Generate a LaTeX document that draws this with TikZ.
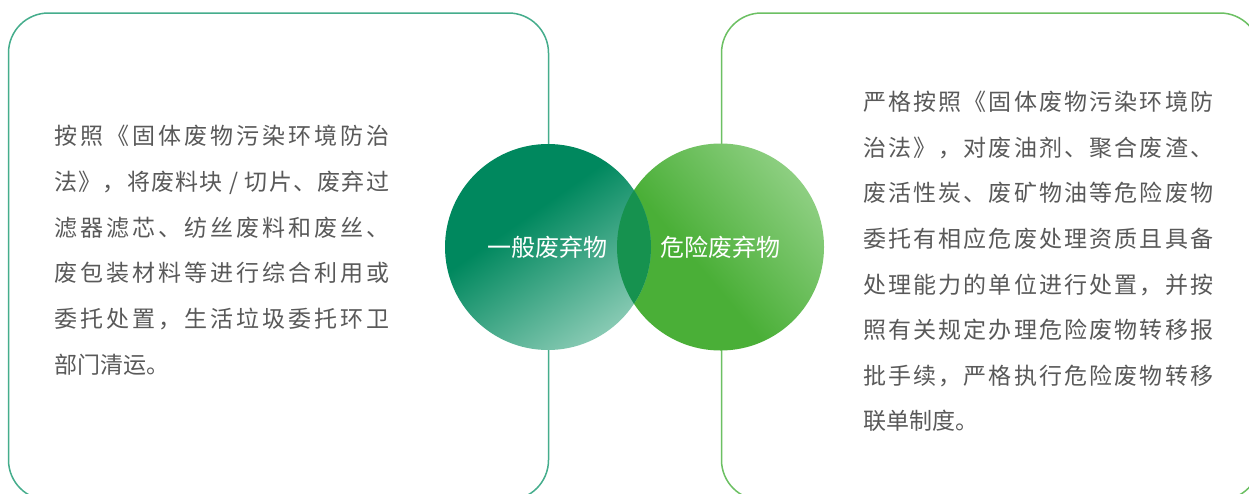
\documentclass[tikz,border=0pt]{standalone}
\usepackage{fontspec}
\newfontfamily\cjk{Noto Sans CJK SC}
\definecolor{gdk}{HTML}{00885E}
\definecolor{glt}{HTML}{8CCCB6}
\definecolor{hdk}{HTML}{4AAF37}
\definecolor{hlt}{HTML}{90D084}
\definecolor{ovl}{HTML}{16924F}
\definecolor{txt}{HTML}{595959}
\definecolor{lline}{HTML}{45AD8C}
\definecolor{rline}{HTML}{6CC063}
\pgfdeclarehorizontalshading{gA}{100bp}{color(0bp)=(gdk); color(41bp)=(gdk); color(76bp)=(glt); color(100bp)=(glt)}
\pgfdeclarehorizontalshading{gB}{100bp}{color(0bp)=(hdk); color(43bp)=(hdk); color(76bp)=(hlt); color(100bp)=(hlt)}
\makeatletter
\newcommand\jline[2]{\hbox to #1{\jl@a#2\relax}}
\def\jl@a#1{#1\jl@b}
\def\jl@b#1{\ifx\relax#1\else\hfil#1\expandafter\jl@b\fi}
\makeatother
\tikzset{
  boxL/.style={draw=lline, line width=1.5pt, rounded corners=40pt},
  boxR/.style={draw=rline, line width=1.5pt, rounded corners=40pt},
  circ/.style={circle, inner sep=0pt, outer sep=0pt, draw=none},
  body/.style={anchor=base west, inner sep=0pt, text=txt, font=\cjk\fontsize{23}{45.7}\selectfont},
  lab/.style={anchor=base, inner sep=0pt, text=white, font=\cjk\fontsize{24}{24}\selectfont}
}
\begin{document}
\begin{tikzpicture}[x=1pt, y=-1pt]
\useasboundingbox (0,0) rectangle (1249,493);
\fill[white] (0,0) rectangle (1249,493);
\clip (0,0) rectangle (1249,493);
% boxes
\draw[boxL] (8.5,13) rectangle (548.5,500);
\draw[boxR] (721.5,13) rectangle (1260,500);
% circles
\node[circ, minimum size=207pt, shading=gB, shading angle=40] (c2) at (720.5,247) {};
\node[circ, minimum size=206pt, shading=gA, shading angle=-55] (c1) at (548,247) {};
\begin{scope}
  \clip (c1.center) circle (103pt);
  \fill[ovl] (c2.center) circle (103.5pt);
\end{scope}
\node[lab] (t1) at (547.5,256) {一般废弃物};
\node[lab] (t2) at (720.5,256) {危险废弃物};
% texts
\node[body] (lt) at (54,144.7) {\vtop{\baselineskip=45.7pt\lineskiplimit=-1000pt\lineskip=0pt
\jline{335pt}{按照《固体废物污染环境防治}
\jline{335pt}{法》，将废料块{\ /\ }切片、废弃过}
\jline{335pt}{滤器滤芯、纺丝废料和废丝、}
\jline{335pt}{废包装材料等进行综合利用或}
\jline{335pt}{委托处置，生活垃圾委托环卫}
\hbox{部门清运。}}};
\node[body] (rt) at (863,110.7) {\vtop{\baselineskip=45.6pt\lineskiplimit=-1000pt\lineskip=0pt
\jline{350pt}{严格按照《固体废物污染环境防}
\jline{350pt}{治法》，对废油剂、聚合废渣、}
\jline{350pt}{废活性炭、废矿物油等危险废物}
\jline{350pt}{委托有相应危废处理资质且具备}
\jline{350pt}{处理能力的单位进行处置，并按}
\jline{350pt}{照有关规定办理危险废物转移报}
\jline{350pt}{批手续，严格执行危险废物转移}
\hbox{联单制度。}}};
\end{tikzpicture}
\end{document}
